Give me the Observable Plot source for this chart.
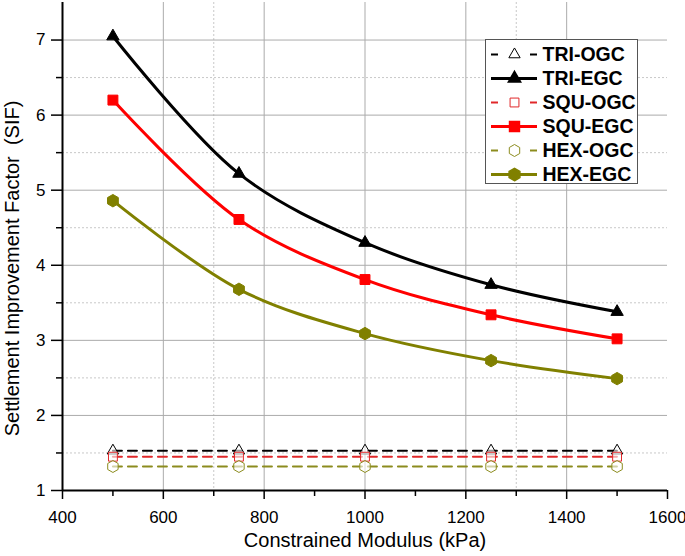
<!DOCTYPE html>
<html>
<head>
<meta charset="utf-8">
<script src="https://cdn.jsdelivr.net/npm/d3@7"></script>
<script src="https://cdn.jsdelivr.net/npm/@observablehq/plot@0.6"></script>
<style>
  html, body { margin: 0; padding: 0; background: #fff; }
  #wrap { position: relative; width: 685px; height: 556px; }
  #legend { position: absolute; left: 485px; top: 39px; width: 151px; height: 143px;
            border: 1px solid #555; background: #fff; }
</style>
</head>
<body>
<div id="wrap"><div id="legend"></div></div>
<script>
// ---- data ----
const modulus = [500, 750, 1000, 1250, 1500];
const seriesNames = ["TRI-OGC", "TRI-EGC", "SQU-OGC", "SQU-EGC", "HEX-OGC", "HEX-EGC"];
const triOGC = [1.53, 1.53, 1.53, 1.53, 1.53];
const triEGC = [7.05, 5.22, 4.30, 3.74, 3.38];
const squOGC = [1.45, 1.45, 1.45, 1.45, 1.45];
const squEGC = [6.20, 4.61, 3.81, 3.34, 3.02];
const hexOGC = [1.32, 1.32, 1.32, 1.32, 1.32];
const hexEGC = [4.86, 3.68, 3.09, 2.73, 2.49];
const seriesValues = [triOGC, triEGC, squOGC, squEGC, hexOGC, hexEGC];
const xMajorTicks = [400, 600, 800, 1000, 1200, 1400, 1600];
const xMinorTicks = [500, 700, 900, 1100, 1300, 1500];
const yMajorTicks = [1, 2, 3, 4, 5, 6, 7];
const yMinorTicks = [1.5, 2.5, 3.5, 4.5, 5.5, 6.5];
const xLabel = "Constrained Modulus (kPa)";
const yLabel = "Settlement Improvement Factor  (SIF)";

// ---- styles (kept separate) ----
const seriesColor = {"TRI-OGC": "#000000", "TRI-EGC": "#000000", "SQU-OGC": "#e0282a", "SQU-EGC": "#ff0000", "HEX-OGC": "#8c8c1e", "HEX-EGC": "#808000"};
const seriesSymbol = {"TRI-OGC": "triangle", "TRI-EGC": "triangle", "SQU-OGC": "square", "SQU-EGC": "square", "HEX-OGC": "hexagon", "HEX-EGC": "hexagon"};
const symbolR = {triangle: 4.6, square: 5.6, hexagon: 5.4};
const symbolROpen = {triangle: 4.2, square: 5.0, hexagon: 5.2};
const isOGC = name => name.endsWith("OGC");

const rows = [];
seriesNames.forEach((name, i) => {
  modulus.forEach((m, j) => rows.push({series: name, x: m, y: seriesValues[i][j]}));
});

const font = "'Liberation Sans', Arial, sans-serif";
const fmt = d3.format("d");
const marks = [
  Plot.gridY(yMinorTicks, {stroke: "#c8c8c8", strokeOpacity: 1, strokeDasharray: "2,2"}),
  Plot.gridX([700, 1300], {stroke: "#c8c8c8", strokeOpacity: 1, strokeDasharray: "2,2"}),
  Plot.gridY(yMajorTicks.filter(d => d > 1), {stroke: "#ababab", strokeOpacity: 1}),
  Plot.gridX(xMajorTicks.filter(d => d > 400 && d < 1600), {stroke: "#ababab", strokeOpacity: 1}),
  Plot.axisY(yMajorTicks, {tickSize: 11, tickPadding: 6, strokeWidth: 1.5, label: null, fontSize: 17, tickFormat: fmt}),
  Plot.axisY(yMinorTicks, {tickSize: 6, text: null, strokeWidth: 1.5, label: null}),
  Plot.axisX(xMajorTicks, {tickSize: 9, tickPadding: 11, strokeWidth: 1.5, label: null, fontSize: 17, tickFormat: fmt}),
  Plot.axisX(xMinorTicks, {tickSize: 6, text: null, strokeWidth: 1.5, label: null}),
  Plot.ruleX([400], {strokeWidth: 2}),
  Plot.ruleY([1], {strokeWidth: 2}),
];
// lines
seriesNames.forEach(name => {
  const data = rows.filter(r => r.series === name);
  if (isOGC(name)) {
    marks.push(Plot.line(data, {x: "x", y: "y", stroke: seriesColor[name], strokeWidth: 2, strokeDasharray: "9,6"}));
  } else {
    marks.push(Plot.line(data, {x: "x", y: "y", stroke: seriesColor[name], strokeWidth: 3, curve: "catmull-rom"}));
  }
});
// markers
seriesNames.forEach(name => {
  const data = rows.filter(r => r.series === name);
  const sym = seriesSymbol[name];
  if (isOGC(name)) {
    marks.push(Plot.dot(data, {x: "x", y: "y", symbol: sym, r: symbolROpen[sym], fill: "white", fillOpacity: 0.6, stroke: seriesColor[name], strokeWidth: 1}));
  } else {
    marks.push(Plot.dot(data, {x: "x", y: "y", symbol: sym, r: symbolR[sym], fill: seriesColor[name], stroke: seriesColor[name], strokeWidth: 1}));
  }
});
marks.push(Plot.text([xLabel], {frameAnchor: "bottom", textAnchor: "middle", lineAnchor: "middle", dy: 50, fontSize: 20}));
marks.push(Plot.text([yLabel], {frameAnchor: "left", textAnchor: "middle", lineAnchor: "middle", dx: -50, dy: 22, rotate: -90, fontSize: 20}));

const chart = Plot.plot({
  width: 685, height: 556,
  marginLeft: 62, marginRight: 18, marginTop: 2, marginBottom: 66,
  x: {domain: [400, 1600]},
  y: {domain: [1, 7.5]},
  style: {fontFamily: font, fontSize: "17px", color: "#000", background: "white", overflow: "visible"},
  marks
});
document.getElementById("wrap").prepend(chart);

// ---- legend (drawn with Plot) ----
const legendMarks = [];
seriesNames.forEach(name => {
  const sym = seriesSymbol[name];
  if (isOGC(name)) {
    legendMarks.push(Plot.ruleY([name], {y: d => d, x1: 5, x2: 12, stroke: seriesColor[name], strokeWidth: 2}));
    legendMarks.push(Plot.ruleY([name], {y: d => d, x1: 44, x2: 51, stroke: seriesColor[name], strokeWidth: 2}));
    legendMarks.push(Plot.dot([name], {y: d => d, x: 28, symbol: sym, r: symbolROpen[sym], fill: "white", stroke: seriesColor[name], strokeWidth: 1}));
  } else {
    legendMarks.push(Plot.ruleY([name], {y: d => d, x1: 5, x2: 51, stroke: seriesColor[name], strokeWidth: 3}));
    legendMarks.push(Plot.dot([name], {y: d => d, x: 28, symbol: sym, r: symbolR[sym], fill: seriesColor[name], stroke: seriesColor[name]}));
  }
});
legendMarks.push(Plot.text(seriesNames, {y: d => d, x: 56, text: d => d, textAnchor: "start", fontWeight: "bold", fontSize: 19.5}));
const legend = Plot.plot({
  width: 151, height: 143, margin: 0,
  x: {type: "identity"},
  y: {type: "point", domain: seriesNames, range: [14, 134], padding: 0},
  axis: null,
  style: {fontFamily: font, color: "#000", background: "white", overflow: "visible"},
  marks: legendMarks
});
document.getElementById("legend").appendChild(legend);
</script>
</body>
</html>
